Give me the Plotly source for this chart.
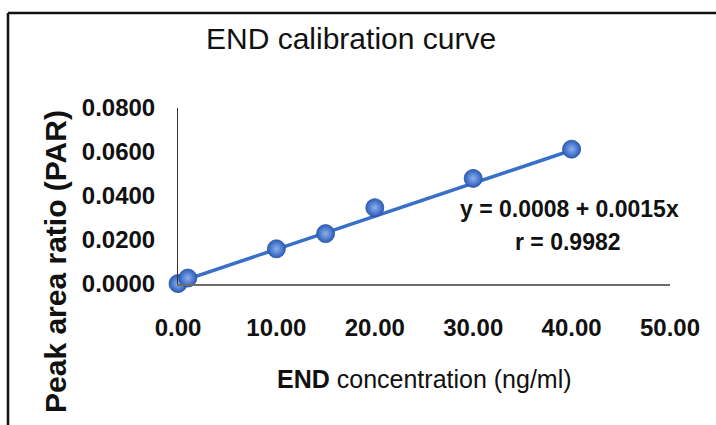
import numpy as np
import plotly.graph_objects as go

# Calibration standards: END concentration (ng/ml) and peak area ratio
concentration = [0.0, 1.0, 10.0, 15.0, 20.0, 30.0, 40.0]
peak_area_ratio = [0.0002, 0.0027, 0.0160, 0.0229, 0.0347, 0.0480, 0.0613]

# Regression line reported on the chart
intercept = 0.0008
slope = 0.0015
r_value = 0.9982

x_ticks = [0, 10, 20, 30, 40, 50]
y_ticks = [0.0, 0.02, 0.04, 0.06, 0.08]

W, H = 716, 425
# plot-area edges in pixels
L, R, T, B = 178, 670, 108, 284


def px(x):
    return (x - L) / (R - L)


def py(y):
    return (B - y) / (B - T)


SANS = "Liberation Sans, Arial, sans-serif"
TICK_FONT = dict(family=SANS, size=24, color="#111111", weight="bold")

fit_x = np.array([min(concentration), max(concentration)])
fit_y = intercept + slope * fit_x

fig = go.Figure()
fig.add_trace(go.Scatter(
    x=fit_x, y=fit_y, mode="lines",
    line=dict(color="#3A6FC8", width=3.5),
    hoverinfo="skip", showlegend=False, cliponaxis=False,
))
fig.add_trace(go.Scatter(
    x=concentration, y=peak_area_ratio, mode="markers",
    marker=dict(size=18, color="#2A5DBB",
                gradient=dict(type="radial", color="#8DB0EC"),
                line=dict(color="#24519F", width=0.8)),
    showlegend=False, cliponaxis=False,
))

fig.update_xaxes(
    range=[0, 50], tickvals=x_ticks,
    ticktext=[f"{v:.2f}" for v in x_ticks],
    showline=True, linecolor="#6E6E6E", linewidth=2,
    showgrid=False, zeroline=False, ticks="",
    tickfont=TICK_FONT,
    ticklabelstandoff=21,
)
fig.update_yaxes(
    range=[0, 0.08], tickvals=y_ticks,
    ticktext=[f"{v:.4f}" for v in y_ticks],
    showline=True, linecolor="#333333", linewidth=1,
    showgrid=False, zeroline=False, ticks="",
    tickfont=TICK_FONT,
    ticklabelstandoff=17,
)

annotations = [
    dict(text="END calibration curve", x=px(351), y=py(38),
         font=dict(family=SANS, size=30, color="#111111")),
    dict(text="<b>END</b> concentration (ng/ml)", x=px(424), y=py(379),
         font=dict(family=SANS, size=25, color="#111111")),
    dict(text="<b>Peak area ratio (PAR)</b>", x=px(55), y=py(262),
         textangle=-90, font=dict(family=SANS, size=30, color="#111111")),
    dict(text=f"<b>y = {intercept:.4f} + {slope:.4f}x</b>", x=px(569), y=py(209),
         font=dict(family=SANS, size=23, color="#111111")),
    dict(text=f"<b>r = {r_value:.4f}</b>", x=px(568), y=py(242),
         font=dict(family=SANS, size=23, color="#111111")),
]
for a in annotations:
    a.update(xref="paper", yref="paper", showarrow=False,
             xanchor="center", yanchor="middle")

# outer frame: top and left edges
frame = dict(type="line", xref="paper", yref="paper",
             line=dict(color="#111111", width=2.5))
shapes = [
    dict(frame, x0=px(8), x1=px(W + 5), y0=py(13), y1=py(13)),
    dict(frame, x0=px(8), x1=px(8), y0=py(13), y1=py(H + 5)),
]

fig.update_layout(
    width=W, height=H,
    margin=dict(l=L, r=W - R, t=T, b=H - B),
    paper_bgcolor="white", plot_bgcolor="white",
    annotations=annotations, shapes=shapes,
)

fig.write_html("out.html")
